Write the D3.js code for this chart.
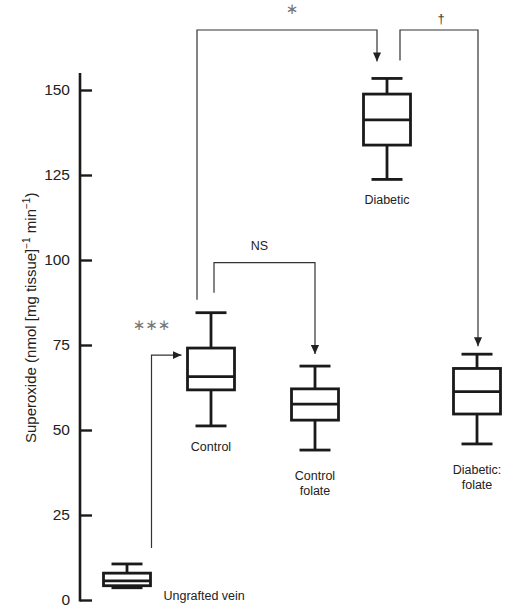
<!DOCTYPE html>
<html>
<head>
<meta charset="utf-8">
<script src="https://cdn.jsdelivr.net/npm/d3@7"></script>
<style>
  html, body { margin: 0; padding: 0; background: #fff; }
  svg { display: block; font-family: "Liberation Sans", Arial, Helvetica, sans-serif; }
</style>
</head>
<body>
<svg id="chart" width="523" height="611"></svg>
<script>
// ---- data ----
const categories = ["Ungrafted vein", "Control", "Control folate", "Diabetic", "Diabetic: folate"];
const categoryLabelLines = [["Ungrafted vein"], ["Control"], ["Control", "folate"], ["Diabetic"], ["Diabetic:", "folate"]];
const whiskerLow  = [3.6, 51.2, 44.1, 123.7, 45.9];
const q1Values    = [4.2, 61.8, 52.9, 133.8, 54.7];
const medianValues= [5.6, 65.7, 57.6, 141.2, 61.3];
const q3Values    = [7.9, 74.1, 62.1, 148.8, 68.1];
const whiskerHigh = [10.6, 84.5, 68.8, 153.4, 72.3];
const yTicks = [0, 25, 50, 75, 100, 125, 150];
const comparisonFrom  = ["Ungrafted vein", "Control", "Control", "Diabetic"];
const comparisonTo    = ["Control", "Control folate", "Diabetic", "Diabetic: folate"];
const comparisonLabel = ["\u2217\u2217\u2217", "NS", "\u2217", "\u2020"];
const yAxisTitle = ["Superoxide (nmol [mg tissue]", "\u22121", " min", "\u22121", ")"];

// ---- layout ----
const svg = d3.select("#chart");
const axisX = 80;
const y = d3.scaleLinear().domain([0, 155]).range([600, 73]);
const x = d3.scaleOrdinal().domain(categories).range([127, 211, 315, 387, 477]);
const boxW = 47, capW = 31;
const ink = "#1a1a1a";

// arrow marker
svg.append("defs").append("marker")
  .attr("id", "arrow").attr("viewBox", "0 0 10 10")
  .attr("refX", 10).attr("refY", 5)
  .attr("markerWidth", 9).attr("markerHeight", 9)
  .attr("markerUnits", "userSpaceOnUse")
  .attr("orient", "auto")
  .append("path").attr("d", "M0,0.5 L10,5 L0,9.5 Z").attr("fill", "#222");

// y axis
const yAxis = d3.axisLeft(y).tickValues(yTicks).tickSizeInner(-12).tickSizeOuter(0).tickPadding(10);
const gy = svg.append("g").attr("transform", `translate(${axisX},0)`).call(yAxis);
gy.select(".domain").attr("stroke", ink).attr("stroke-width", 2.6)
  .attr("d", `M0,${y(155)}V${y(0) + 1.5}`);
gy.selectAll(".tick line").attr("stroke", ink).attr("stroke-width", 2.4);
gy.selectAll(".tick text").attr("font-size", 15.5).attr("fill", "#222")
  .attr("font-family", "Liberation Sans, Arial, sans-serif");

// y axis title
const title = svg.append("text")
  .attr("transform", `translate(36,${y(83)}) rotate(-90)`)
  .attr("text-anchor", "middle").attr("font-size", 15).attr("fill", "#222");
title.append("tspan").text(yAxisTitle[0]);
title.append("tspan").text(yAxisTitle[1]).attr("font-size", 10).attr("dy", -6);
title.append("tspan").text(yAxisTitle[2]).attr("dy", 6);
title.append("tspan").text(yAxisTitle[3]).attr("font-size", 10).attr("dy", -6);
title.append("tspan").text(yAxisTitle[4]).attr("dy", 6);

// boxes
const boxes = categories.map((c, i) => ({
  c, lo: whiskerLow[i], q1: q1Values[i], med: medianValues[i], q3: q3Values[i], hi: whiskerHigh[i], lines: categoryLabelLines[i]
}));
const g = svg.append("g").attr("stroke", ink).attr("stroke-width", 2.8).attr("fill", "none");
boxes.forEach(b => {
  const cx = x(b.c);
  g.append("line").attr("x1", cx).attr("x2", cx).attr("y1", y(b.hi)).attr("y2", y(b.q3));
  g.append("line").attr("x1", cx).attr("x2", cx).attr("y1", y(b.q1)).attr("y2", y(b.lo));
  g.append("line").attr("x1", cx - capW / 2).attr("x2", cx + capW / 2).attr("y1", y(b.hi)).attr("y2", y(b.hi));
  g.append("line").attr("x1", cx - capW / 2).attr("x2", cx + capW / 2).attr("y1", y(b.lo)).attr("y2", y(b.lo));
  g.append("rect").attr("x", cx - boxW / 2).attr("width", boxW)
    .attr("y", y(b.q3)).attr("height", y(b.q1) - y(b.q3)).attr("fill", "#fff");
  g.append("line").attr("x1", cx - boxW / 2).attr("x2", cx + boxW / 2).attr("y1", y(b.med)).attr("y2", y(b.med));
});

// category labels
boxes.forEach((b, i) => {
  const cx = x(b.c);
  const t = svg.append("text").attr("font-size", 12.5).attr("fill", "#222");
  if (i === 0) {
    t.attr("x", cx + boxW / 2 + 13).attr("y", y(0)).attr("text-anchor", "start").text(b.lines[0]);
  } else {
    const base = y(b.lo) + (b.lines.length > 1 ? 30 : 25);
    t.attr("text-anchor", "middle");
    b.lines.forEach((ln, k) => t.append("tspan").attr("x", cx).attr("y", base + k * 15).text(ln));
  }
});

// comparison annotations
const ann = svg.append("g").attr("stroke", "#333").attr("stroke-width", 1.2).attr("fill", "none");
const idx = c => categories.indexOf(c);
const lbl = (tx, ty, s, size, col, fam) => svg.append("text").attr("x", tx).attr("y", ty)
  .attr("text-anchor", "middle").attr("dominant-baseline", "central")
  .attr("font-family", fam || null)
  .attr("font-size", size).attr("fill", col).text(s);

// *** : Ungrafted vein -> Control
{
  const a = idx(comparisonFrom[0]), b = idx(comparisonTo[0]);
  const x0 = x(categories[a]) + boxW / 2 + 1, y0 = y(whiskerHigh[a]) - 16;
  const yT = y(q3Values[b]) + 7, xT = x(categories[b]) - boxW / 2 - 6;
  ann.append("path").attr("d", `M${x0},${y0}V${yT}H${xT}`).attr("marker-end", "url(#arrow)");
  lbl(x0, yT - 30, comparisonLabel[0], 15, "#777", "DejaVu Sans");
}
// NS : Control -> Control folate
{
  const a = idx(comparisonFrom[1]), b = idx(comparisonTo[1]);
  const x0 = x(categories[a]) + 3, y0 = y(whiskerHigh[a]) - 20;
  const level = y(whiskerHigh[a]) - 50;
  const x1 = x(categories[b]), y1 = y(whiskerHigh[b]) - 12;
  ann.append("path").attr("d", `M${x0},${y0}V${level}H${x1}V${y1}`).attr("marker-end", "url(#arrow)");
  lbl((x0 + x1) / 2 - 5, level - 17, comparisonLabel[1], 12.5, "#222");
}
// * : Control -> Diabetic
const topLevel = 30;
{
  const a = idx(comparisonFrom[2]), b = idx(comparisonTo[2]);
  const x0 = x(categories[a]) - 14, y0 = y(whiskerHigh[a]) - 13;
  const x1 = x(categories[b]) - 10, y1 = y(whiskerHigh[b]) - 17;
  ann.append("path").attr("d", `M${x0},${y0}V${topLevel}H${x1}V${y1}`).attr("marker-end", "url(#arrow)");
  lbl((x0 + x1) / 2 + 5, topLevel - 21, comparisonLabel[2], 15, "#777", "DejaVu Sans");
}
// † : Diabetic -> Diabetic: folate
{
  const a = idx(comparisonFrom[3]), b = idx(comparisonTo[3]);
  const x0 = x(categories[a]) + 13, y0 = y(whiskerHigh[a]) - 18;
  const x1 = x(categories[b]) + 1, y1 = y(whiskerHigh[b]) - 8;
  ann.append("path").attr("d", `M${x0},${y0}V${topLevel}H${x1}V${y1}`).attr("marker-end", "url(#arrow)");
  lbl((x0 + x1) / 2 + 2, topLevel - 12, comparisonLabel[3], 13, "#333");
}
</script>
</body>
</html>
